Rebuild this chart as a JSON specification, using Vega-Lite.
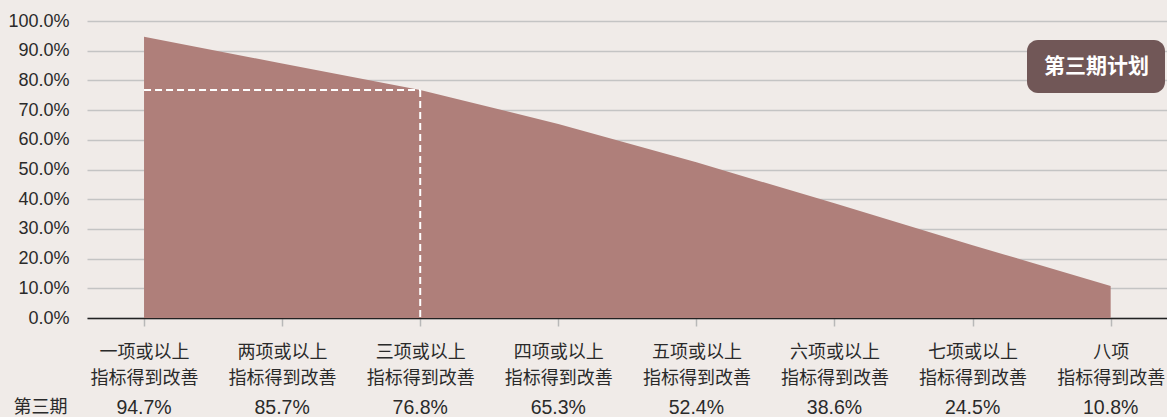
{
  "$schema": "https://vega.github.io/schema/vega-lite/v6.json",
  "width": 1080,
  "height": 297,
  "autosize": {"type": "none"},
  "padding": {"left": 87, "top": 21, "right": 0, "bottom": 99},
  "background": "#F0EBE8",
  "config": {
    "view": {"stroke": null},
    "font": "Liberation Sans, Noto Sans CJK SC",
    "axisX": {
      "title": null,
      "tickCount": 8,
      "grid": false,
      "domainColor": "#222222",
      "domainWidth": 1.5,
      "tickColor": "#B8B8B8",
      "tickWidth": 1.5,
      "tickSize": 8,
      "labelPadding": 17,
      "labelFont": "Noto Sans CJK SC",
      "labelFontSize": 18,
      "labelColor": "#2A2A2A",
      "labelLineHeight": 26,
      "labelBaseline": "top",
      "labelAlign": "center",
      "labelBound": false,
      "labelOverlap": false,
      "labelFlush": false,
      "labelExpr": "[['一项或以上','指标得到改善'],['两项或以上','指标得到改善'],['三项或以上','指标得到改善'],['四项或以上','指标得到改善'],['五项或以上','指标得到改善'],['六项或以上','指标得到改善'],['七项或以上','指标得到改善'],['八项','指标得到改善']][datum.value]"
    },
    "axisY": {
      "title": null,
      "tickCount": 10,
      "format": ".1%",
      "domain": false,
      "ticks": false,
      "grid": true,
      "gridColor": "#C4C4C4",
      "gridWidth": 1.5,
      "labelPadding": 18,
      "labelFontSize": 18,
      "labelColor": "#2A2A2A",
      "labelOverlap": false,
      "labelBound": false,
      "labelFlush": false
    },
    "legend": {
      "orient": "none",
      "legendX": 940,
      "legendY": 19,
      "fillColor": "#715757",
      "cornerRadius": 11,
      "padding": 16,
      "symbolSize": 0,
      "symbolOpacity": 0,
      "symbolStrokeWidth": 0,
      "labelOffset": -20,
      "labelColor": "#FFFFFF",
      "labelFont": "Noto Sans CJK SC",
      "labelFontWeight": "bold",
      "labelFontSize": 21
    }
  },
  "datasets": {
    "main": [
      {"idx": 0, "value": 0.947, "series": "第三期计划"},
      {"idx": 1, "value": 0.857, "series": "第三期计划"},
      {"idx": 2, "value": 0.768, "series": "第三期计划"},
      {"idx": 3, "value": 0.653, "series": "第三期计划"},
      {"idx": 4, "value": 0.524, "series": "第三期计划"},
      {"idx": 5, "value": 0.386, "series": "第三期计划"},
      {"idx": 6, "value": 0.245, "series": "第三期计划"},
      {"idx": 7, "value": 0.108, "series": "第三期计划"}
    ],
    "guide": [{"from": 0, "to": 2, "level": 0.768}],
    "rowlabel": [{"name": "第三期"}]
  },
  "layer": [
    {
      "data": {"name": "main"},
      "mark": {"type": "area", "interpolate": "linear"},
      "encoding": {
        "x": {
          "field": "idx",
          "type": "quantitative",
          "scale": {"domain": [-0.413, 7.408], "nice": false, "zero": false}
        },
        "y": {
          "field": "value",
          "type": "quantitative",
          "scale": {"domain": [0, 1], "nice": false}
        },
        "color": {
          "field": "series",
          "type": "nominal",
          "scale": {"range": ["#AF7F7A"]},
          "legend": {"title": null}
        }
      }
    },
    {
      "data": {"name": "guide"},
      "mark": {"type": "rule", "color": "#FFFFFF", "strokeWidth": 2, "strokeDash": [7, 4]},
      "encoding": {
        "x": {"field": "from", "type": "quantitative"},
        "x2": {"field": "to"},
        "y": {"field": "level", "type": "quantitative"}
      }
    },
    {
      "data": {"name": "guide"},
      "mark": {"type": "rule", "color": "#FFFFFF", "strokeWidth": 2, "strokeDash": [7, 4]},
      "encoding": {
        "x": {"field": "to", "type": "quantitative"},
        "y": {"field": "level", "type": "quantitative"},
        "y2": {"datum": 0}
      }
    },
    {
      "data": {"name": "main"},
      "mark": {"type": "text", "fontSize": 19.5, "color": "#2A2A2A", "baseline": "middle", "align": "center"},
      "encoding": {
        "x": {"field": "idx", "type": "quantitative"},
        "y": {"datum": -0.303, "type": "quantitative"},
        "text": {"field": "value", "type": "quantitative", "format": ".1%"}
      }
    },
    {
      "data": {"name": "rowlabel"},
      "mark": {"type": "text", "fontSize": 18, "font": "Noto Sans CJK SC", "color": "#2A2A2A", "baseline": "middle", "align": "center"},
      "encoding": {
        "x": {"datum": -0.749, "type": "quantitative"},
        "y": {"datum": -0.303, "type": "quantitative"},
        "text": {"field": "name", "type": "nominal"}
      }
    }
  ]
}
